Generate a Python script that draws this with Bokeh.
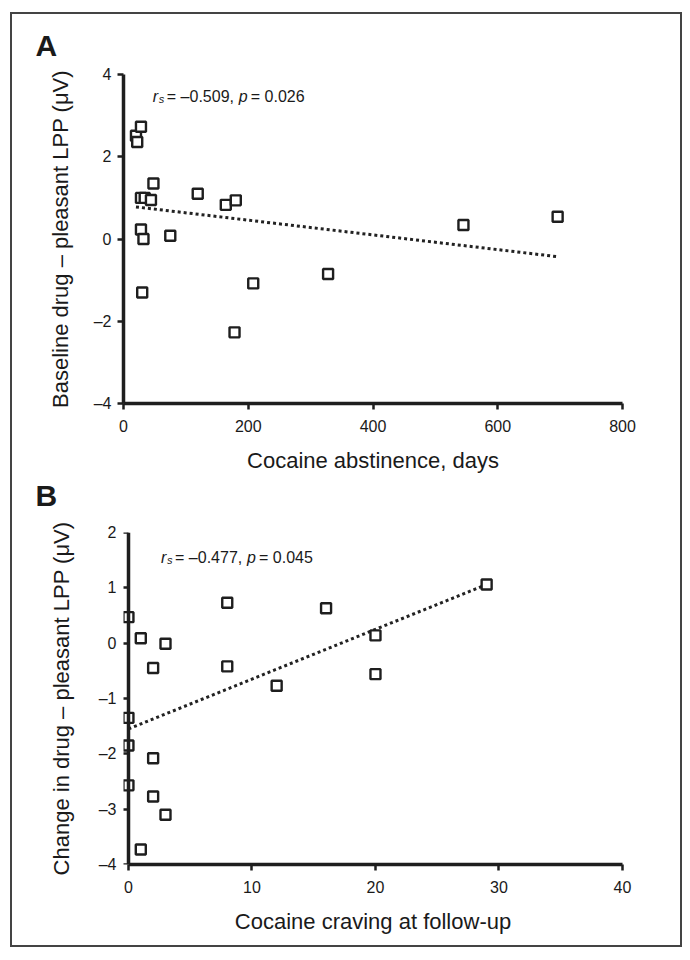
from bokeh.plotting import figure
from bokeh.models import Range1d, Label, FixedTicker, LinearAxis, Title
from bokeh.layouts import column
from bokeh.embed import file_html
from bokeh.resources import INLINE

# ---- Panel A data ----
abstinence_days = [20, 22, 28, 28, 34, 48, 44, 28, 32, 30, 75, 119, 164, 180, 208, 328, 178, 545, 696]
baseline_lpp = [2.51, 2.36, 2.73, 1.00, 1.00, 1.35, 0.95, 0.23, 0.00, -1.30, 0.08, 1.10, 0.83, 0.94, -1.08, -0.85, -2.27, 0.34, 0.54]
trend_a_x = [20, 696]
trend_a_y = [0.78, -0.43]
ticks_a_x = [0, 200, 400, 600, 800]
ticks_a_y = [-4, -2, 0, 2, 4]

# ---- Panel B data ----
craving = [0, 1, 3, 2, 8, 8, 16, 12, 20, 20, 0, 0, 2, 0, 2, 3, 1, 29]
change_lpp = [0.47, 0.09, -0.01, -0.45, 0.73, -0.42, 0.63, -0.77, 0.14, -0.56, -1.35, -1.85, -2.08, -2.57, -2.77, -3.10, -3.73, 1.06]
trend_b_x = [0, 29]
trend_b_y = [-1.55, 1.06]
ticks_b_x = [0, 10, 20, 30, 40]
ticks_b_y = [-4, -3, -2, -1, 0, 1, 2]

FONT = "Liberation Sans"
INK = "#1a1a1a"
LINE = "#1e1e1e"


def dash_label(v):
    return ("\u2013" + str(abs(v))) if v < 0 else str(v)


def style_axis(ax):
    ax.axis_line_width = 3.5
    ax.axis_line_color = LINE
    ax.major_tick_line_width = 2.5
    ax.major_tick_line_color = LINE
    ax.major_tick_out = 6
    ax.major_tick_in = 0
    ax.minor_tick_line_color = None
    ax.major_label_text_font = FONT
    ax.major_label_text_font_size = "16px"
    ax.major_label_text_color = INK
    ax.axis_label_text_font = FONT
    ax.axis_label_text_font_size = "22px"
    ax.axis_label_text_font_style = "normal"
    ax.axis_label_text_color = INK


def style_letter(t, offset, standoff):
    t.align = "left"
    t.offset = offset
    t.standoff = standoff
    t.text_font = FONT
    t.text_font_size = "30px"
    t.text_font_style = "bold"
    t.text_color = INK


def style(p):
    p.grid.visible = False
    p.outline_line_color = None
    p.background_fill_color = "white"
    p.border_fill_color = "white"
    for ax in p.axis:
        style_axis(ax)
    p.xaxis.major_label_standoff = 10
    p.xaxis.axis_label_standoff = 13
    p.yaxis.major_label_standoff = 6
    p.yaxis.axis_label_standoff = 18


def annotate(p, x, y, r_text, p_text):
    common = dict(x=x, y=y, text_font=FONT, text_color=INK, text_baseline="alphabetic")
    p.add_layout(Label(text="r", text_font_style="italic", text_font_size="16px", **common))
    p.add_layout(Label(text="s", text_font_style="italic", text_font_size="11px", x_offset=6, y_offset=-3, **common))
    p.add_layout(Label(text="= " + r_text + ",", text_font_size="16px", x_offset=14, **common))
    p.add_layout(Label(text="p", text_font_style="italic", text_font_size="16px", x_offset=86, **common))
    p.add_layout(Label(text="= " + p_text, text_font_size="16px", x_offset=98, **common))


W = 668

# ---------- Panel A ----------
pA = figure(width=W, height=500, output_backend="svg", toolbar_location=None,
            x_range=Range1d(0, 800), y_range=Range1d(-4, 4),
            min_border_left=111, min_border_right=58, min_border_top=59, min_border_bottom=111)
style(pA)
pA.title.text = "A"
style_letter(pA.title, -88, 25)
pA.xaxis.ticker = FixedTicker(ticks=ticks_a_x)
pA.yaxis.ticker = FixedTicker(ticks=ticks_a_y)
pA.yaxis.major_label_overrides = {v: dash_label(v) for v in ticks_a_y}
pA.xaxis.axis_label = "Cocaine abstinence, days"
pA.yaxis.axis_label = "Baseline drug \u2013 pleasant LPP (\u03bcV)"
pA.line(trend_a_x, trend_a_y, line_color="#222222", line_width=3, line_dash="3 3")
pA.scatter(abstinence_days, baseline_lpp, marker="square", size=10, fill_color="white",
           line_color=LINE, line_width=2.4)
annotate(pA, 47, 3.47, "\u20130.509", "0.026")

# panel letter "B" sits in the strip between the two plots
letter_b = Title(text="B")
style_letter(letter_b, -88, 3)
pA.add_layout(letter_b, "below")

# ---------- Panel B ----------
pB = figure(width=W, height=431, output_backend="svg", toolbar_location=None,
            x_range=Range1d(-0.4, 40), y_range=Range1d(-4, 2),
            min_border_left=107, min_border_right=56, min_border_top=18, min_border_bottom=81)
style(pB)
pB.xaxis.bounds = (0, 40)
pB.xaxis.ticker = FixedTicker(ticks=ticks_b_x)
# tick labels on the frame edge; axis line and ticks drawn at x = 0
pB.yaxis.ticker = FixedTicker(ticks=ticks_b_y)
pB.yaxis.major_label_overrides = {v: dash_label(v) for v in ticks_b_y}
pB.yaxis.axis_line_color = None
pB.yaxis.major_tick_line_color = None
pB.yaxis.major_tick_out = 0
pB.yaxis.major_label_standoff = 7
zero_axis = LinearAxis(fixed_location=0, ticker=FixedTicker(ticks=ticks_b_y))
style_axis(zero_axis)
zero_axis.major_label_overrides = {v: "" for v in ticks_b_y}
zero_axis.major_label_text_font_size = "0px"
zero_axis.major_label_standoff = 0
pB.add_layout(zero_axis, "left")
# axis title, centred a little above the middle of the frame as in the original
title_axis = LinearAxis(ticker=FixedTicker(ticks=[]), bounds=(-3.0, 2))
style_axis(title_axis)
title_axis.axis_line_color = None
title_axis.major_tick_out = 0
title_axis.major_label_standoff = 0
title_axis.axis_label = "Change in drug \u2013 pleasant LPP (\u03bcV)"
title_axis.axis_label_standoff = 22
pB.add_layout(title_axis, "left")
pB.xaxis.axis_label = "Cocaine craving at follow-up"
pB.line(trend_b_x, trend_b_y, line_color="#222222", line_width=3, line_dash="3 3")
pB.scatter(craving, change_lpp, marker="square", size=10, fill_color="white",
           line_color=LINE, line_width=2.4)
annotate(pB, 2.64, 1.55, "\u20130.477", "0.045")

layout = column(pA, pB, styles={"border": "2px solid #444444"}, margin=(12, 0, 0, 10))

open("out.html", "w").write(file_html(layout, INLINE))
